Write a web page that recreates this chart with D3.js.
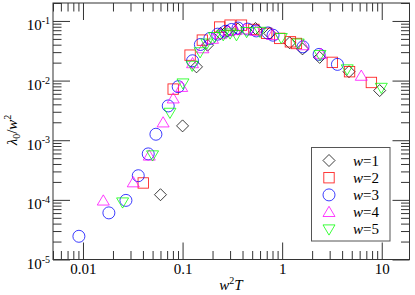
<!DOCTYPE html>
<html><head><meta charset="utf-8">
<script src="https://cdn.jsdelivr.net/npm/d3@7"></script>
<style>
body{margin:0;background:#fff;}
svg{display:block;}
svg text, svg tspan{font-family:"Liberation Serif","Times New Roman",Times,serif !important;fill:#000;}
</style>
</head><body>
<svg id="chart" width="415" height="295" font-family="Liberation Serif, Times New Roman, serif"></svg>
<script>
// ---- data ----
const xMajor = [0.01, 0.1, 1, 10];
const xMajorLabels = ["0.01", "0.1", "1", "10"];
const yMajorExp = [-5, -4, -3, -2, -1];
const seriesLabels = ["1", "2", "3", "4", "5"];

const w1X = [0.060, 0.100, 0.138, 0.178, 0.24, 0.28, 0.36, 0.54, 0.75, 1.19, 1.60, 2.38, 4.69, 9.53];
const w1Y = [1.22e-4, 1.74e-3, 0.0170, 0.0393, 0.062, 0.068, 0.073, 0.0746, 0.062, 0.043, 0.034, 0.0245, 0.0141, 0.0068];

const w2X = [0.0403, 0.0805, 0.119, 0.158, 0.236, 0.30, 0.39, 0.52, 0.70, 0.946, 1.21, 1.39, 3.19, 4.75, 7.87];
const w2Y = [1.92e-4, 7.2e-3, 0.0267, 0.0477, 0.079, 0.085, 0.085, 0.072, 0.062, 0.051, 0.0447, 0.0419, 0.0202, 0.0141, 0.0093];

const w3X = [0.0091, 0.0182, 0.027, 0.0359, 0.0452, 0.054, 0.0718, 0.0904, 0.126, 0.151, 0.188, 0.225, 0.27, 0.31, 0.36, 0.45, 0.55, 0.72, 0.81, 1.62, 2.35, 3.59];
const w3Y = [2.45e-5, 6.05e-5, 9.8e-5, 2.54e-4, 5.9e-4, 1.26e-3, 3.76e-3, 7.9e-3, 0.0215, 0.0403, 0.0508, 0.060, 0.067, 0.072, 0.076, 0.073, 0.068, 0.063, 0.0577, 0.0368, 0.0275, 0.0187];

const w4X = [0.016, 0.032, 0.0463, 0.0638, 0.0806, 0.098, 0.126, 0.160, 0.20, 0.24, 0.29, 0.34, 0.42, 0.55, 0.80, 1.62, 2.45, 6.23];
const w4Y = [9.7e-5, 1.96e-4, 5.5e-4, 1.98e-3, 5.0e-3, 7.8e-3, 0.0195, 0.0347, 0.050, 0.060, 0.067, 0.070, 0.072, 0.068, 0.058, 0.039, 0.028, 0.0120];

const w5X = [0.025, 0.050, 0.0747, 0.101, 0.125, 0.150, 0.175, 0.21, 0.256, 0.30, 0.348, 0.44, 0.60, 0.98, 1.45, 2.40, 4.50, 9.90];
const w5Y = [9.1e-5, 5.6e-4, 2.9e-3, 9.0e-3, 0.0178, 0.030, 0.042, 0.054, 0.058, 0.062, 0.058, 0.0655, 0.066, 0.052, 0.042, 0.027, 0.0155, 0.0076];

const seriesColors = ["#000000", "#ff0000", "#0000ff", "#ff00ff", "#00ff00"];
const seriesShapes = ["diamond", "square", "circle", "triUp", "triDown"];

// ---- layout ----
const FONT = "'Liberation Serif', 'Times New Roman', Times, serif";
const M = {l: 53, r: 409.5, t: 3, b: 259.5};
const svg = d3.select("#chart");
const x = d3.scaleLog().domain([0.005, 19]).range([M.l, M.r]);
const y = d3.scaleLog().domain([1e-5, 0.2]).range([M.b, M.t]);

svg.append("rect").attr("x", 0).attr("y", 0).attr("width", 415).attr("height", 295).attr("fill", "#fff");

const xMinor = x.ticks().filter(v => !xMajor.some(m => Math.abs(m - v) / m < 1e-6));
const yMajor = yMajorExp.map(e => Math.pow(10, e));
const yMinor = y.ticks().filter(v => !yMajor.some(m => Math.abs(m - v) / m < 1e-6));

const MAJ = 17, MIN = 8.5;
function styleAxis(g) {
  g.attr("font-family", FONT);
  g.select(".domain").remove();
  g.selectAll(".tick line").attr("stroke", "#333").attr("stroke-width", 1);
}
// bottom
svg.append("g").attr("transform", `translate(0,${M.b})`)
  .call(d3.axisBottom(x).tickValues(xMinor).tickSize(-MIN).tickFormat(""))
  .call(styleAxis);
svg.append("g").attr("transform", `translate(0,${M.b})`)
  .call(d3.axisBottom(x).tickValues(xMajor).tickSize(-MAJ).tickPadding(4)
    .tickFormat((d, i) => xMajorLabels[i]))
  .call(styleAxis)
  .selectAll("text").attr("font-size", 15).style("font-family", FONT);
// top
svg.append("g").attr("transform", `translate(0,${M.t})`)
  .call(d3.axisTop(x).tickValues(xMinor).tickSize(-MIN).tickFormat(""))
  .call(styleAxis);
svg.append("g").attr("transform", `translate(0,${M.t})`)
  .call(d3.axisTop(x).tickValues(xMajor).tickSize(-MAJ).tickFormat(""))
  .call(styleAxis);
// left
svg.append("g").attr("transform", `translate(${M.l},0)`)
  .call(d3.axisLeft(y).tickValues(yMinor).tickSize(-MIN).tickFormat(""))
  .call(styleAxis);
svg.append("g").attr("transform", `translate(${M.l},0)`)
  .call(d3.axisLeft(y).tickValues(yMajor).tickSize(-MAJ).tickFormat(""))
  .call(styleAxis);
// right
svg.append("g").attr("transform", `translate(${M.r},0)`)
  .call(d3.axisRight(y).tickValues(yMinor).tickSize(-MIN).tickFormat(""))
  .call(styleAxis);
svg.append("g").attr("transform", `translate(${M.r},0)`)
  .call(d3.axisRight(y).tickValues(yMajor).tickSize(-MAJ).tickFormat(""))
  .call(styleAxis);

// y tick labels with superscripts
yMajorExp.forEach(e => {
  const t = svg.append("text").attr("x", 50).attr("y", y(Math.pow(10, e)) + 9.5)
    .attr("text-anchor", "end").attr("font-size", 15).style("font-family", FONT);
  t.append("tspan").text("10");
  t.append("tspan").attr("dy", -6.5).attr("font-size", 10).text("-" + Math.abs(e));
});

// frame
svg.append("rect").attr("x", M.l).attr("y", M.t).attr("width", M.r - M.l).attr("height", M.b - M.t)
  .attr("fill", "none").attr("stroke", "#333").attr("stroke-width", 1);

// marker drawing
function marker(g, shape, cx, cy, color) {
  let el;
  if (shape === "circle") {
    el = g.append("circle").attr("cx", cx).attr("cy", cy).attr("r", 6);
  } else if (shape === "square") {
    el = g.append("rect").attr("x", cx - 5.2).attr("y", cy - 5.2).attr("width", 10.4).attr("height", 10.4);
  } else {
    const p = d3.path();
    if (shape === "diamond") {
      p.moveTo(cx, cy - 6); p.lineTo(cx + 6, cy); p.lineTo(cx, cy + 6); p.lineTo(cx - 6, cy); p.closePath();
    } else if (shape === "triUp") {
      p.moveTo(cx, cy - 5.8); p.lineTo(cx + 6, cy + 4.4); p.lineTo(cx - 6, cy + 4.4); p.closePath();
    } else {
      p.moveTo(cx, cy + 5.8); p.lineTo(cx + 6, cy - 4.4); p.lineTo(cx - 6, cy - 4.4); p.closePath();
    }
    el = g.append("path").attr("d", p.toString());
  }
  el.attr("fill", "none").attr("stroke", color).attr("stroke-width", 0.9).attr("stroke-opacity", 0.85);
}

const seriesX = [w1X, w2X, w3X, w4X, w5X];
const seriesY = [w1Y, w2Y, w3Y, w4Y, w5Y];
const plot = svg.append("g");
seriesX.forEach((xs, s) => {
  const g = plot.append("g");
  xs.forEach((xv, i) => marker(g, seriesShapes[s], x(xv), y(seriesY[s][i]), seriesColors[s]));
});

// axis titles
const xt = svg.append("text").attr("x", 231).attr("y", 290).attr("text-anchor", "middle")
  .attr("font-size", 15).style("font-family", FONT);
xt.append("tspan").attr("font-style", "italic").text("w");
xt.append("tspan").attr("dy", -6).attr("font-size", 10).text("2");
xt.append("tspan").attr("dy", 6).attr("font-style", "italic").text("T");

const yt = svg.append("text").attr("transform", "translate(17,130) rotate(-90)")
  .attr("text-anchor", "middle").attr("font-size", 15).style("font-family", FONT);
yt.append("tspan").attr("font-style", "italic").text("λ");
yt.append("tspan").attr("dy", 3).attr("font-size", 10).text("0");
yt.append("tspan").attr("dy", -3).text("/");
yt.append("tspan").attr("font-style", "italic").text("w");
yt.append("tspan").attr("dy", -6).attr("font-size", 10).text("2");

// legend
const lg = svg.append("g");
lg.append("rect").attr("x", 311.5).attr("y", 147.5).attr("width", 78.5).attr("height", 93.5)
  .attr("fill", "#fff").attr("stroke", "#555").attr("stroke-width", 1);
seriesLabels.forEach((lab, i) => {
  const cy = 160.5 + 17.2 * i;
  marker(lg, seriesShapes[i], 329, cy, seriesColors[i]);
  const t = lg.append("text").attr("x", 353).attr("y", cy + 5).attr("font-size", 15).style("font-family", FONT);
  t.append("tspan").attr("font-style", "italic").text("w");
  t.append("tspan").text("=" + lab);
});
</script>
</body></html>
